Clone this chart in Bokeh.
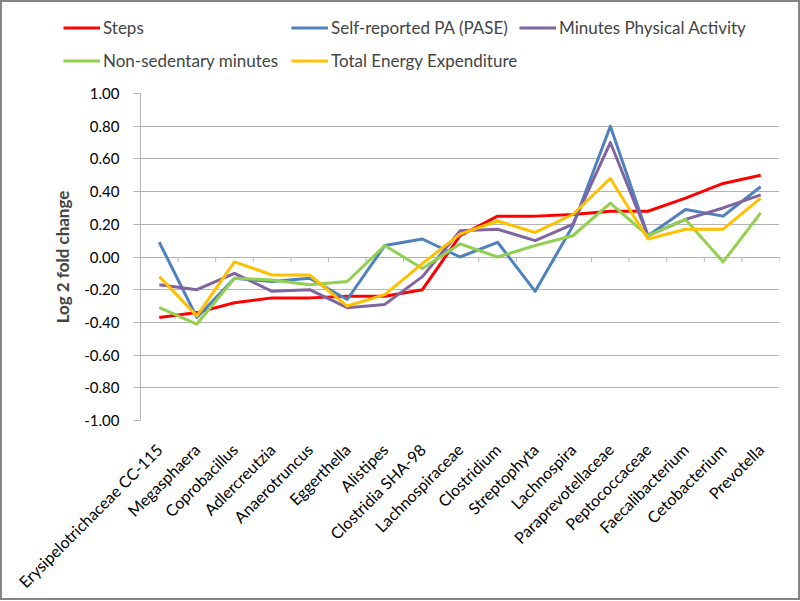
import math
from bokeh.plotting import figure
from bokeh.models import FixedTicker, NumeralTickFormatter, Legend, LegendItem, Range1d
from bokeh.embed import file_html
from bokeh.resources import INLINE

categories = ["Erysipelotrichaceae CC-115", "Megasphaera", "Coprobacillus", "Adlercreutzia",
              "Anaerotruncus", "Eggerthella", "Alistipes", "Clostridia SHA-98", "Lachnospiraceae",
              "Clostridium", "Streptophyta", "Lachnospira", "Paraprevotellaceae", "Peptococcaceae",
              "Faecalibacterium", "Cetobacterium", "Prevotella"]

steps = [-0.37, -0.34, -0.28, -0.25, -0.25, -0.24, -0.24, -0.20, 0.13, 0.25, 0.25, 0.26, 0.28, 0.28, 0.36, 0.45, 0.50]
pase = [0.09, -0.37, -0.13, -0.15, -0.13, -0.26, 0.07, 0.11, 0.00, 0.09, -0.21, 0.19, 0.80, 0.13, 0.29, 0.25, 0.43]
minutes_pa = [-0.17, -0.20, -0.10, -0.21, -0.20, -0.31, -0.29, -0.12, 0.16, 0.17, 0.10, 0.20, 0.70, 0.13, 0.23, 0.30, 0.38]
non_sedentary = [-0.31, -0.41, -0.13, -0.14, -0.17, -0.15, 0.07, -0.07, 0.08, 0.00, 0.07, 0.13, 0.33, 0.13, 0.23, -0.03, 0.27]
tee = [-0.12, -0.36, -0.03, -0.11, -0.11, -0.30, -0.23, -0.04, 0.14, 0.22, 0.15, 0.26, 0.48, 0.11, 0.17, 0.17, 0.36]

series_names = ["Steps", "Self-reported PA (PASE)", "Minutes Physical Activity",
                "Non-sedentary minutes", "Total Energy Expenditure"]
series_values = [steps, pase, minutes_pa, non_sedentary, tee]
series_colors = ["#FF0000", "#4F81BD", "#8064A2", "#92D050", "#FFC000"]

y_ticks = [-1.0, -0.8, -0.6, -0.4, -0.2, 0.0, 0.2, 0.4, 0.6, 0.8, 1.0]
y_title = "Log 2 fold change"

FONT = "Lato"
GRID = "#B3B3B3"
EDGE = "#868686"

n = len(categories)
xs = list(range(n))

# ---- legend strip (top): its own figure, the series lie outside its ranges ----
lf = figure(width=800, height=80, output_backend="svg", toolbar_location=None,
            x_range=Range1d(1000, 1001), y_range=Range1d(1000, 1001),
            min_border_left=0, min_border_right=0, min_border_top=0, min_border_bottom=0)
lf.axis.visible = False
lf.grid.visible = False
lf.outline_line_color = None
lf.border_fill_alpha = 0
lf.background_fill_alpha = 0
lf.styles = {"box-shadow": f"inset 2px 2px 0 0 {EDGE}, inset -2px 0 0 0 {EDGE}"}
leg_renderers = [lf.line(xs, vals, line_color=c, line_width=3)
                 for vals, c in zip(series_values, series_colors)]
legend = Legend(items=[LegendItem(label=nm, renderers=[r]) for nm, r in zip(series_names, leg_renderers)],
                orientation="horizontal", ncols=3, location=(63, 3),
                glyph_width=37, glyph_height=33, label_height=33, label_width=188,
                label_standoff=3, spacing=0, padding=0, margin=0,
                border_line_color=None, background_fill_alpha=0,
                label_text_font=FONT, label_text_font_size="17px")
lf.add_layout(legend, "center")

# ---- main chart ----
p = figure(width=800, height=520, output_backend="svg", toolbar_location=None,
           x_range=Range1d(-0.5, n - 0.5), y_range=Range1d(y_ticks[0], y_ticks[-1]),
           min_border_left=140, min_border_right=21, min_border_top=13, min_border_bottom=180)
p.outline_line_color = None
p.border_fill_alpha = 0
p.styles = {"box-shadow": f"inset 2px 0 0 0 {EDGE}, inset -2px -2px 0 0 {EDGE}"}

p.yaxis.ticker = FixedTicker(ticks=y_ticks)
p.yaxis.formatter = NumeralTickFormatter(format="0.00")
p.yaxis.axis_line_color = GRID
p.yaxis.major_tick_line_color = GRID
p.yaxis.major_tick_out = 7
p.yaxis.major_tick_in = 0
p.yaxis.minor_tick_line_color = None
p.yaxis.major_label_text_font = FONT
p.yaxis.major_label_text_font_size = "15px"
p.yaxis.major_label_text_color = "#000000"
p.yaxis.major_label_standoff = 14
p.yaxis.axis_label = y_title
p.yaxis.axis_label_text_font = FONT
p.yaxis.axis_label_text_font_size = "17px"
p.yaxis.axis_label_text_font_style = "bold"
p.yaxis.axis_label_standoff = 8

p.xaxis.ticker = FixedTicker(ticks=xs)
p.xaxis.major_label_overrides = {i: c for i, c in enumerate(categories)}
p.xaxis.major_label_orientation = math.pi / 4
p.xaxis.axis_line_color = None
p.xaxis.major_tick_line_color = None
p.xaxis.minor_tick_line_color = None
p.xaxis.major_label_text_font = FONT
p.xaxis.major_label_text_font_size = "16px"
p.xaxis.major_label_text_color = "#000000"
p.xaxis.major_label_standoff = 20

p.xgrid.visible = False
p.ygrid.ticker = FixedTicker(ticks=y_ticks)
p.ygrid.grid_line_color = GRID
p.ygrid.grid_line_width = 1

bounds = [i + 0.5 for i in range(n)]
p.segment(x0=bounds, x1=bounds, y0=[0.0] * n, y1=[-0.03] * n, line_color=GRID, line_width=1)

for vals, col in zip(series_values, series_colors):
    p.line(xs, vals, line_color=col, line_width=3, line_join="round")

open("out.html", "w").write(file_html([lf, p], INLINE))
